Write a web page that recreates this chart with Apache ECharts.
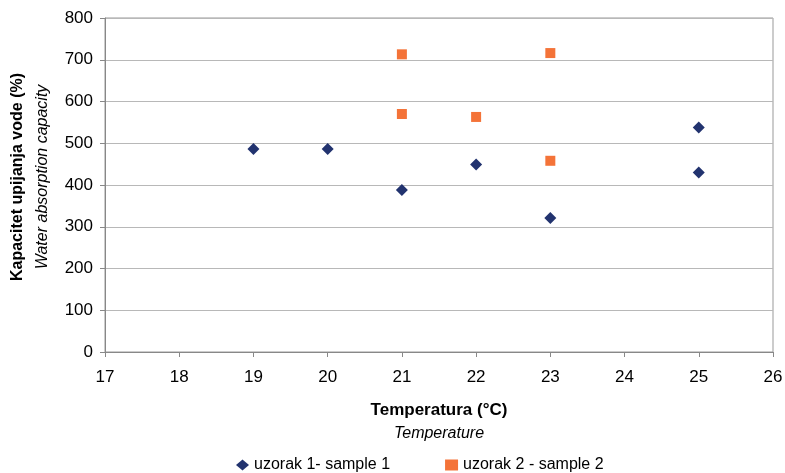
<!DOCTYPE html>
<html><head><meta charset="utf-8">
<script src="https://cdn.jsdelivr.net/npm/echarts@6/dist/echarts.min.js"></script>
<style>html,body{margin:0;padding:0;background:#fff}#c{width:785px;height:473px}</style>
</head><body><div id="c"></div>
<script>
const sample1Name = 'uzorak 1- sample 1';
const sample2Name = 'uzorak 2 - sample 2';
const sample1X = [19, 20, 21, 22, 23, 25, 25];
const sample1Y = [486, 486, 388, 449, 321, 538, 430];
const sample2X = [21, 21, 22, 23, 23];
const sample2Y = [713, 570, 563, 716, 458];
const xTicks = [17, 18, 19, 20, 21, 22, 23, 24, 25, 26];
const yTicks = [0, 100, 200, 300, 400, 500, 600, 700, 800];

const font = 'Liberation Sans, Arial, sans-serif';
const chart = echarts.init(document.getElementById('c'));
chart.setOption({
  animation: false,
  grid: {left: 105, right: 12, top: 18, bottom: 121, show: true, borderColor: '#999', borderWidth: 1, outerBoundsMode: 'none', containLabel: false},
  xAxis: {
    type: 'value', min: xTicks[0], max: xTicks[xTicks.length-1], interval: 1,
    axisLine: {show: true, lineStyle: {color: '#888'}},
    axisTick: {show: true, length: 5, lineStyle: {color: '#888'}},
    splitLine: {show: false},
    axisLabel: {color: '#000', fontSize: 17, fontFamily: font, margin: 17},
    name: '{b|Temperatura (°C)}\n{i|Temperature}',
    nameLocation: 'middle', nameGap: 46,
    nameTextStyle: {
      rich: {
        b: {fontWeight: 'bold', fontSize: 17, fontFamily: font, color: '#000', lineHeight: 24},
        i: {fontStyle: 'italic', fontSize: 16, fontFamily: font, color: '#000', lineHeight: 24}
      }
    }
  },
  yAxis: {
    type: 'value', min: yTicks[0], max: yTicks[yTicks.length-1], interval: 100,
    axisLine: {show: true, lineStyle: {color: '#888'}},
    axisTick: {show: true, length: 5, lineStyle: {color: '#888'}},
    splitLine: {show: true, lineStyle: {color: '#b8b8b8'}},
    axisLabel: {color: '#000', fontSize: 17, fontFamily: font, margin: 12},
    name: '{b|Kapacitet upijanja vode (%)}\n{i|Water absorption capacity}',
    nameLocation: 'middle', nameGap: 50, nameRotate: 90,
    nameTextStyle: {
      padding: [0, 0, 0, 16],
      rich: {
        b: {fontWeight: 'bold', fontSize: 16, fontFamily: font, color: '#000', lineHeight: 25},
        i: {fontStyle: 'italic', fontSize: 16, fontFamily: font, color: '#000', lineHeight: 25}
      }
    }
  },
  legend: {
    top: 452, left: 231, itemGap: 55, itemWidth: 13, itemHeight: 11,
    textStyle: {fontSize: 16, fontFamily: font, color: '#000'},
    data: [{name: sample1Name, icon: 'diamond'}, {name: sample2Name, icon: 'rect'}]
  },
  series: [
    {name: sample1Name, type: 'scatter', symbol: 'diamond', symbolSize: 12,
     itemStyle: {color: '#22336F', opacity: 1}, data: sample1X.map((x, i) => [x, sample1Y[i]])},
    {name: sample2Name, type: 'scatter', symbol: 'rect', symbolSize: 10,
     itemStyle: {color: '#F47338', opacity: 1}, data: sample2X.map((x, i) => [x, sample2Y[i]])}
  ]
});
</script></body></html>
